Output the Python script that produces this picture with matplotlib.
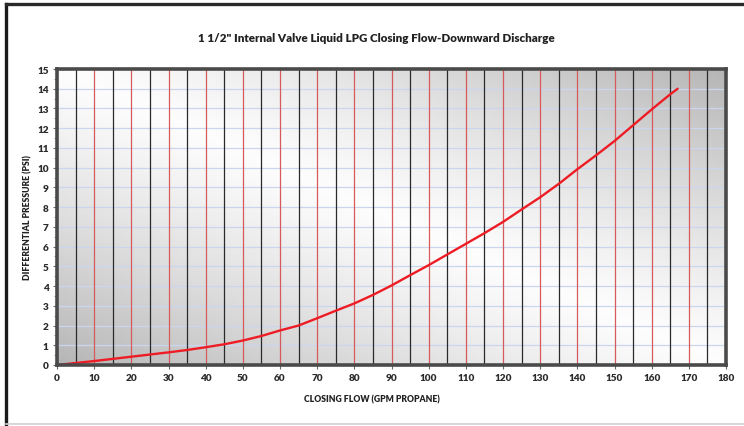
import numpy as np
import matplotlib.pyplot as plt
from matplotlib.lines import Line2D

# closing flow (GPM propane) vs differential pressure (PSI)
flow_gpm = [0, 5, 10, 15, 20, 25, 30, 35, 40, 45, 50, 55, 60, 65, 70, 75, 80, 85,
            90, 95, 100, 105, 110, 115, 120, 125, 130, 135, 140, 145, 150, 155,
            160, 165, 167]
pressure_psi = [0, 0.1, 0.2, 0.31, 0.42, 0.53, 0.64, 0.76, 0.9, 1.05, 1.24, 1.47,
                1.75, 2.0, 2.37, 2.75, 3.12, 3.55, 4.03, 4.55, 5.06, 5.6, 6.14,
                6.68, 7.25, 7.88, 8.5, 9.18, 9.92, 10.62, 11.35, 12.15, 12.95,
                13.72, 14.0]

x_ticks = list(range(0, 181, 10))
y_ticks = list(range(0, 16))
black_grid = list(range(5, 180, 10))
red_grid = list(range(10, 180, 10))

title = '1 1/2" Internal Valve Liquid LPG Closing Flow-Downward Discharge'
xlabel = 'CLOSING FLOW (GPM PROPANE)'
ylabel = 'DIFFERENTIAL PRESSURE (PSI)'

plt.rcParams['font.family'] = ['Lato', 'DejaVu Sans']

W, H = 744, 427
fig = plt.figure(figsize=(W / 100, H / 100), dpi=100)
fig.patch.set_facecolor('white')

# outer frame of the picture
fig.add_artist(Line2D([6 / W, 6 / W], [0, 1 - 5 / H], color='#1a1a1a', lw=2.4,
                      transform=fig.transFigure))
fig.add_artist(Line2D([6 / W, 1], [1 - 5 / H, 1 - 5 / H], color='#2a2a2a', lw=2.4,
                      transform=fig.transFigure))
fig.add_artist(Line2D([6 / W, 1], [2 / H, 2 / H], color='#d0d0d0', lw=1.2,
                      transform=fig.transFigure))

x0, x1, ytop, ybot = 57, 726, 70, 366
ax = fig.add_axes([x0 / W, (H - ybot) / H, (x1 - x0) / W, (ybot - ytop) / H])
ax.set_xlim(0, 180)
ax.set_ylim(0, 15)

# gray gradient background: light band from top-left to bottom-right
xs = np.linspace(0, 1, 300)
ys = np.linspace(0, 1, 200)
XX, YY = np.meshgrid(xs, ys)
d = XX + YY - 1.0
gray = 0.99 - 0.28 * np.abs(d) ** 1.2
ax.imshow(gray, cmap='gray', vmin=0, vmax=1, origin='lower', aspect='auto',
          extent=[0, 180, 0, 15], zorder=0, interpolation='bilinear')

for yv in y_ticks[1:-1]:
    ax.axhline(yv, color='#c9d6ee', lw=0.9, zorder=1)
for xv in black_grid:
    ax.axvline(xv, color='#2a2a2a', lw=0.9, zorder=2)
for xv in red_grid:
    ax.axvline(xv, color='#d65a5c', lw=0.9, zorder=2)

ax.plot(flow_gpm, pressure_psi, color='#ee1c24', lw=1.7, zorder=3,
        solid_capstyle='round')

for sp in ax.spines.values():
    sp.set_color('#4a4a4a')
    sp.set_linewidth(2.6)
    sp.set_zorder(4)

ax.set_xticks(x_ticks)
ax.set_yticks(y_ticks)
ax.set_yticks(np.arange(0.5, 15, 0.5), minor=True)
ax.tick_params(axis='both', which='major', labelsize=7.2, colors='#6a6a6a',
               length=3, width=0.8, pad=3)
ax.tick_params(axis='y', which='minor', length=2, width=0.6, colors='#8a8a8a')
for lab in ax.get_xticklabels() + ax.get_yticklabels():
    lab.set_fontweight('heavy')
    lab.set_color('#2b2b2b')

fig.text(376 / W, 1 - 38 / H, title, ha='center', va='center', fontsize=8.4,
         fontweight='heavy', color='#222222')
fig.text(372 / W, 1 - 400 / H, xlabel, ha='center', va='center', fontsize=6.2,
         fontweight='heavy', color='#222222')
fig.text(28 / W, 1 - 218 / H, ylabel, ha='center', va='center', fontsize=6.2,
         fontweight='heavy', color='#222222', rotation=90)

fig.savefig('out.png', dpi=100)
